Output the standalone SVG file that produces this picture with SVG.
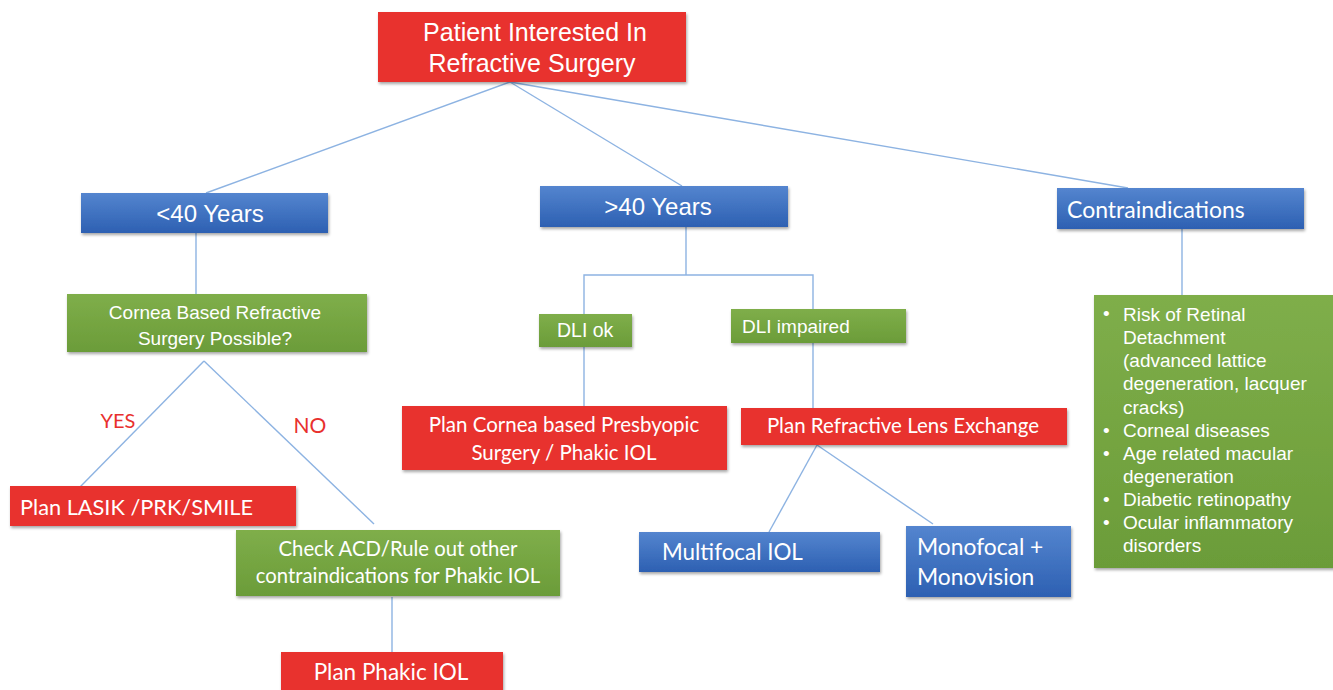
<svg xmlns="http://www.w3.org/2000/svg" width="1333" height="690" viewBox="0 0 1333 690">
<defs>
<linearGradient id="gBlue" x1="0" y1="0" x2="0" y2="1"><stop offset="0" stop-color="#5485cf"/><stop offset="1" stop-color="#2d60b2"/></linearGradient>
<linearGradient id="gGreen" x1="0" y1="0" x2="0" y2="1"><stop offset="0" stop-color="#7fae4a"/><stop offset="1" stop-color="#6b9c39"/></linearGradient>
<filter id="sh" x="-5%" y="-10%" width="110%" height="130%"><feDropShadow dx="1" dy="2" stdDeviation="1.5" flood-color="#000" flood-opacity="0.35"/></filter>
<style>
.red{fill:#e8302e;filter:url(#sh)}
.blue{fill:url(#gBlue);filter:url(#sh)}
.green{fill:url(#gGreen);filter:url(#sh)}
.h{font-family:"Liberation Sans",Arial,sans-serif;fill:#fff}
.c{font-family:Lato,"Open Sans",sans-serif;fill:#fff}
.lbl{font-family:Lato,"Open Sans",sans-serif;fill:#e8302e}
.ln{stroke:#8db3e2;stroke-width:1.4;fill:none}
</style>
</defs>
<rect width="1333" height="690" fill="#fff"/>
<g id="connectors">
<line class="ln" x1="510" y1="82" x2="206" y2="193"/>
<line class="ln" x1="510" y1="82" x2="682" y2="186"/>
<line class="ln" x1="510" y1="82" x2="1128" y2="188"/>
<line class="ln" x1="196" y1="233" x2="196" y2="294"/>
<line class="ln" x1="204" y1="361" x2="80" y2="487"/>
<line class="ln" x1="204" y1="361" x2="374" y2="524"/>
<line class="ln" x1="392" y1="597" x2="392" y2="652"/>
<polyline class="ln" points="686,227 686,275"/>
<polyline class="ln" points="584,314 584,275 813,275 813,309"/>
<line class="ln" x1="584" y1="347" x2="584" y2="406"/>
<line class="ln" x1="813" y1="343" x2="813" y2="408"/>
<line class="ln" x1="817" y1="445" x2="769" y2="532"/>
<line class="ln" x1="817" y1="445" x2="933" y2="524"/>
<line class="ln" x1="1182" y1="229" x2="1182" y2="295"/>
</g>
<g id="n-top"><rect class="red" x="378" y="12" width="308" height="70"/>
<text class="h" font-size="25" text-anchor="middle"><tspan x="535" y="41">Patient Interested In</tspan><tspan x="532" y="72">Refractive Surgery</tspan></text></g>
<g id="n-lt40"><rect class="blue" x="81" y="193" width="247" height="40"/>
<text class="h" font-size="24" x="210" y="222" text-anchor="middle">&lt;40 Years</text></g>
<g id="n-gt40"><rect class="blue" x="540" y="186" width="248" height="41"/>
<text class="h" font-size="24" x="658" y="215" text-anchor="middle">&gt;40 Years</text></g>
<g id="n-contra"><rect class="blue" x="1057" y="188" width="247" height="41"/>
<text class="c" font-size="23" x="1067" y="218">Contraindications</text></g>
<g id="n-cornea"><rect class="green" x="67" y="294" width="300" height="58"/>
<text class="h" font-size="19" text-anchor="middle"><tspan x="215" y="319">Cornea Based Refractive</tspan><tspan x="215" y="345">Surgery Possible?</tspan></text></g>
<g id="n-dliok"><rect class="green" x="539" y="314" width="93" height="33"/>
<text class="h" font-size="19.5" x="557" y="337">DLI ok</text></g>
<g id="n-dliimp"><rect class="green" x="731" y="309" width="175" height="34"/>
<text class="h" font-size="19" x="742" y="333">DLI impaired</text></g>
<g id="n-contralist"><rect class="green" x="1094" y="295" width="245" height="273"/>
<g class="h" font-size="19">
<text x="1103" y="320">•</text><text x="1103" y="437">•</text><text x="1103" y="460">•</text><text x="1103" y="506">•</text><text x="1103" y="529">•</text>
<text><tspan x="1123" y="321">Risk of Retinal</tspan><tspan x="1123" y="344">Detachment</tspan><tspan x="1123" y="367">(advanced lattice</tspan><tspan x="1123" y="390">degeneration, lacquer</tspan><tspan x="1123" y="414">cracks)</tspan><tspan x="1123" y="437">Corneal diseases</tspan><tspan x="1123" y="460">Age related macular</tspan><tspan x="1123" y="483">degeneration</tspan><tspan x="1123" y="506">Diabetic retinopathy</tspan><tspan x="1123" y="529">Ocular inflammatory</tspan><tspan x="1123" y="552">disorders</tspan></text>
</g></g>
<g id="lbl-yes"><text class="lbl" font-size="20" x="118" y="428" text-anchor="middle">YES</text></g>
<g id="lbl-no"><text class="lbl" font-size="21" x="310" y="433" text-anchor="middle">NO</text></g>
<g id="n-lasik"><rect class="red" x="10" y="486" width="286" height="40"/>
<text class="c" font-size="21.75" x="20" y="515">Plan LASIK /PRK/SMILE</text></g>
<g id="n-acd"><rect class="green" x="236" y="530" width="324" height="66"/>
<text class="c" font-size="20.3" text-anchor="middle"><tspan x="398" y="556">Check ACD/Rule out other</tspan><tspan x="398" y="583">contraindications for Phakic IOL</tspan></text></g>
<g id="n-phakic"><rect class="red" x="281" y="652" width="222" height="45"/>
<text class="c" font-size="22.5" x="391" y="680" text-anchor="middle">Plan Phakic IOL</text></g>
<g id="n-presby"><rect class="red" x="402" y="406" width="325" height="64"/>
<text class="c" font-size="20.5" text-anchor="middle"><tspan x="564" y="432">Plan Cornea based Presbyopic</tspan><tspan x="564" y="460">Surgery / Phakic IOL</tspan></text></g>
<g id="n-rle"><rect class="red" x="741" y="408" width="326" height="37"/>
<text class="c" font-size="20.5" x="903" y="433" text-anchor="middle">Plan Refractive Lens Exchange</text></g>
<g id="n-multi"><rect class="blue" x="639" y="532" width="241" height="40"/>
<text class="c" font-size="22.4" x="662" y="560">Multifocal IOL</text></g>
<g id="n-mono"><rect class="blue" x="906" y="526" width="165" height="71"/>
<text class="c" font-size="22.8"><tspan x="917" y="555">Monofocal +</tspan><tspan x="917" y="585">Monovision</tspan></text></g>
</svg>
